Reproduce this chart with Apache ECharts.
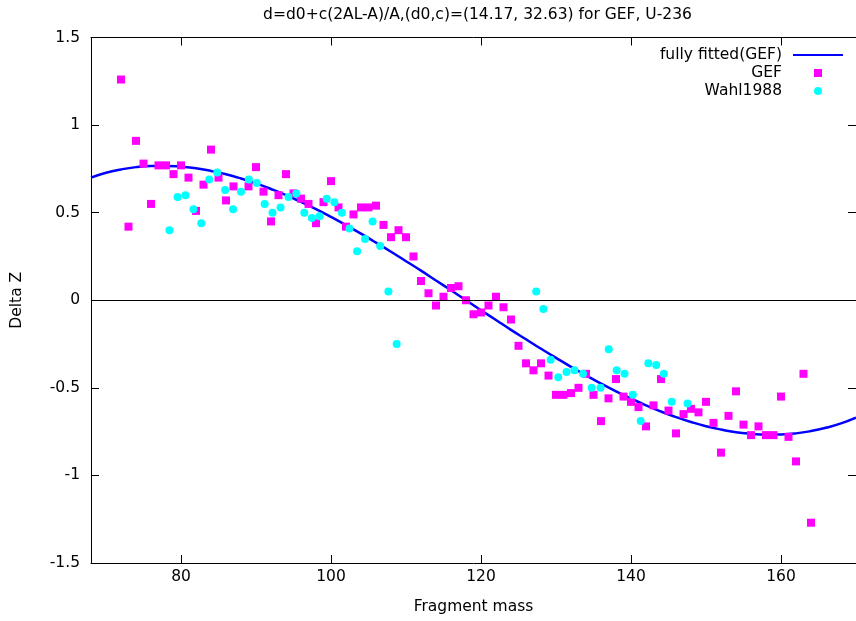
<!DOCTYPE html>
<html>
<head>
<meta charset="utf-8">
<script src="https://cdn.jsdelivr.net/npm/echarts@6/dist/echarts.min.js"></script>
<style>
  html, body { margin: 0; padding: 0; background: #fff; }
  #chart { width: 856px; height: 621px; }
</style>
</head>
<body>
<div id="chart"></div>
<script>
// ---------- data ----------
const chartTitle = 'd=d0+c(2AL-A)/A,(d0,c)=(14.17, 32.63) for GEF, U-236';
const xTickValues = [80, 100, 120, 140, 160];

// fitted curve
const fitX = [68, 70, 72, 74, 76, 78, 80, 82, 84, 86, 88, 90, 92, 94, 96, 98, 100, 102, 104, 106, 108,
  110, 112, 114, 116, 118, 120, 122, 124, 126, 128, 130, 132, 134, 136, 138, 140, 142, 144, 146, 148,
  150, 152, 154, 156, 158, 160, 162, 164, 166, 168, 170];
const fitY = [0.700, 0.728, 0.747, 0.760, 0.766, 0.767, 0.762, 0.753, 0.738, 0.719, 0.695, 0.667, 0.635,
  0.600, 0.561, 0.520, 0.476, 0.429, 0.380, 0.329, 0.277, 0.223, 0.169, 0.113, 0.057, 0.000, -0.057,
  -0.113, -0.169, -0.223, -0.277, -0.329, -0.380, -0.429, -0.476, -0.520, -0.561, -0.600, -0.635,
  -0.667, -0.695, -0.719, -0.738, -0.753, -0.762, -0.767, -0.766, -0.760, -0.747, -0.728, -0.703, -0.670];

// GEF (magenta squares)
const gefX = [72, 73, 74, 75, 76, 77, 78, 79, 80, 81, 82, 83, 84, 85, 86, 87, 89, 90, 91, 92, 93, 94, 95,
  96, 97, 98, 99, 100, 101, 102, 103, 104, 105, 106, 107, 108, 109, 110, 111, 112, 113, 114, 115, 116,
  117, 118, 119, 120, 121, 122, 123, 124, 125, 126, 127, 128, 129, 130, 131, 132, 133, 134, 135, 136,
  137, 138, 139, 140, 141, 142, 143, 144, 145, 146, 147, 148, 149, 150, 151, 152, 153, 154, 155, 156,
  157, 158, 159, 160, 161, 162, 163, 164];
const gefY = [1.26, 0.42, 0.91, 0.78, 0.55, 0.77, 0.77, 0.72, 0.77, 0.70, 0.51, 0.66, 0.86, 0.70, 0.57,
  0.65, 0.65, 0.76, 0.62, 0.45, 0.60, 0.72, 0.61, 0.58, 0.55, 0.44, 0.56, 0.68, 0.53, 0.42, 0.49, 0.53,
  0.53, 0.54, 0.43, 0.36, 0.40, 0.36, 0.25, 0.11, 0.04, -0.03, 0.02, 0.07, 0.08, 0.00, -0.08, -0.07,
  -0.03, 0.02, -0.04, -0.11, -0.26, -0.36, -0.40, -0.36, -0.43, -0.54, -0.54, -0.53, -0.50, -0.42,
  -0.54, -0.69, -0.56, -0.45, -0.55, -0.58, -0.61, -0.72, -0.60, -0.45, -0.63, -0.76, -0.65, -0.62,
  -0.64, -0.58, -0.70, -0.87, -0.66, -0.52, -0.71, -0.77, -0.72, -0.77, -0.77, -0.55, -0.78, -0.92,
  -0.42, -1.27];

// Wahl1988 (cyan circles)
const wahlX = [78.46, 79.55, 80.6, 81.66, 82.7, 83.77, 84.83, 85.88, 86.94, 88.0, 89.05, 90.1, 91.16,
  92.2, 93.27, 94.33, 95.38, 96.44, 97.45, 98.47, 99.43, 100.45, 101.45, 102.47, 103.48, 104.54, 105.54,
  106.56, 107.65, 108.76, 127.36, 128.32, 129.29, 130.3, 131.4, 132.45, 133.6, 134.75, 135.94, 137.03,
  138.09, 139.14, 140.24, 141.29, 142.31, 143.36, 144.38, 145.43, 147.54];
const wahlY = [0.40, 0.59, 0.60, 0.52, 0.44, 0.69, 0.73, 0.63, 0.52, 0.62, 0.69, 0.67, 0.55, 0.50, 0.53,
  0.59, 0.61, 0.50, 0.47, 0.48, 0.58, 0.56, 0.50, 0.41, 0.28, 0.35, 0.45, 0.31, 0.05, -0.25, 0.05,
  -0.05, -0.34, -0.44, -0.41, -0.40, -0.42, -0.50, -0.50, -0.28, -0.40, -0.42, -0.54, -0.69, -0.36,
  -0.37, -0.42, -0.58, -0.59];

// ---------- chart ----------
const FONT = 'DejaVu Sans';
const FS = 15.5;
const pair = (xs, ys) => xs.map((x, i) => [x, ys[i]]);

const chart = echarts.init(document.getElementById('chart'), null, { renderer: 'canvas' });

const xBase = {
  type: 'value', min: 68, max: 170,
  splitLine: { show: false },
  axisLine: { show: true, onZero: false, lineStyle: { color: '#000', width: 1 } },
  axisTick: { show: true, inside: true, length: 8, customValues: xTickValues, lineStyle: { color: '#000', width: 1 } },
};

const option = {
  backgroundColor: '#fff',
  animation: false,
  title: {
    text: chartTitle,
    left: 477.5, top: 7, textAlign: 'center', padding: 0,
    textStyle: { fontFamily: FONT, fontSize: FS, fontWeight: 'normal', color: '#000' }
  },
  legend: {
    orient: 'vertical', align: 'right', right: 13, top: 46, padding: 0,
    itemWidth: 50, itemHeight: 8, itemGap: 0, symbolKeepAspect: true,
    textStyle: { fontFamily: FONT, fontSize: FS, color: '#000', lineHeight: 18, padding: [0, 6, 0, 0] },
    data: [
      { name: 'fully fitted(GEF)', icon: 'path://M0,0L50,0L50,2L0,2Z', itemStyle: { color: '#0000ff' } },
      { name: 'GEF', icon: 'path://M0,0L1,0L1,1L0,1Z', itemStyle: { color: '#ff00ff' } },
      { name: 'Wahl1988', icon: 'path://M0.5,0A0.5,0.5,0,1,1,0.5,1A0.5,0.5,0,1,1,0.5,0Z', itemStyle: { color: '#00ffff' } }
    ]
  },
  grid: { left: 91, right: -8, top: 37.5, bottom: 58, containLabel: false },
  xAxis: [
    Object.assign({}, xBase, {
      position: 'bottom',
      name: 'Fragment mass', nameLocation: 'middle', nameGap: 36,
      nameTextStyle: { fontFamily: FONT, fontSize: FS, color: '#000' },
      axisLabel: { show: true, customValues: xTickValues, margin: 6, fontFamily: FONT, fontSize: FS, color: '#000' }
    }),
    Object.assign({}, xBase, { position: 'top', axisLabel: { show: false } })
  ],
  yAxis: [
    {
      type: 'value', min: -1.5, max: 1.5, interval: 0.5, position: 'left',
      name: 'Delta Z', nameLocation: 'middle', nameGap: 66, nameRotate: 90,
      nameTextStyle: { fontFamily: FONT, fontSize: FS, color: '#000' },
      splitLine: { show: false },
      axisLine: { show: true, onZero: false, lineStyle: { color: '#000', width: 1 } },
      axisTick: { show: true, inside: true, length: 8, lineStyle: { color: '#000' } },
      axisLabel: { margin: 11, fontFamily: FONT, fontSize: FS, color: '#000' }
    },
    {
      type: 'value', min: -1.5, max: 1.5, interval: 0.5, position: 'right',
      splitLine: { show: false },
      axisLine: { show: true, onZero: false, lineStyle: { color: '#000', width: 1 } },
      axisTick: { show: true, inside: true, length: 8, lineStyle: { color: '#000' } },
      axisLabel: { show: false }
    }
  ],
  series: [
    {
      name: 'fully fitted(GEF)', type: 'line', xAxisIndex: 0, yAxisIndex: 0,
      data: pair(fitX, fitY), smooth: true, showSymbol: false, symbol: 'none',
      lineStyle: { color: '#0000ff', width: 2.5 }, itemStyle: { color: '#0000ff' },
      z: 2,
      markLine: {
        silent: true, symbol: 'none', label: { show: false },
        lineStyle: { color: '#000', width: 1, type: 'solid' },
        data: [{ yAxis: 0 }]
      }
    },
    {
      name: 'GEF', type: 'scatter', xAxisIndex: 0, yAxisIndex: 0,
      data: pair(gefX, gefY), symbol: 'rect', symbolSize: 8,
      itemStyle: { color: '#ff00ff', opacity: 1 }, z: 3
    },
    {
      name: 'Wahl1988', type: 'scatter', xAxisIndex: 0, yAxisIndex: 0,
      data: pair(wahlX, wahlY), symbol: 'circle', symbolSize: 8,
      itemStyle: { color: '#00ffff', opacity: 1 }, z: 4
    }
  ]
};
chart.setOption(option);
</script>
</body>
</html>
